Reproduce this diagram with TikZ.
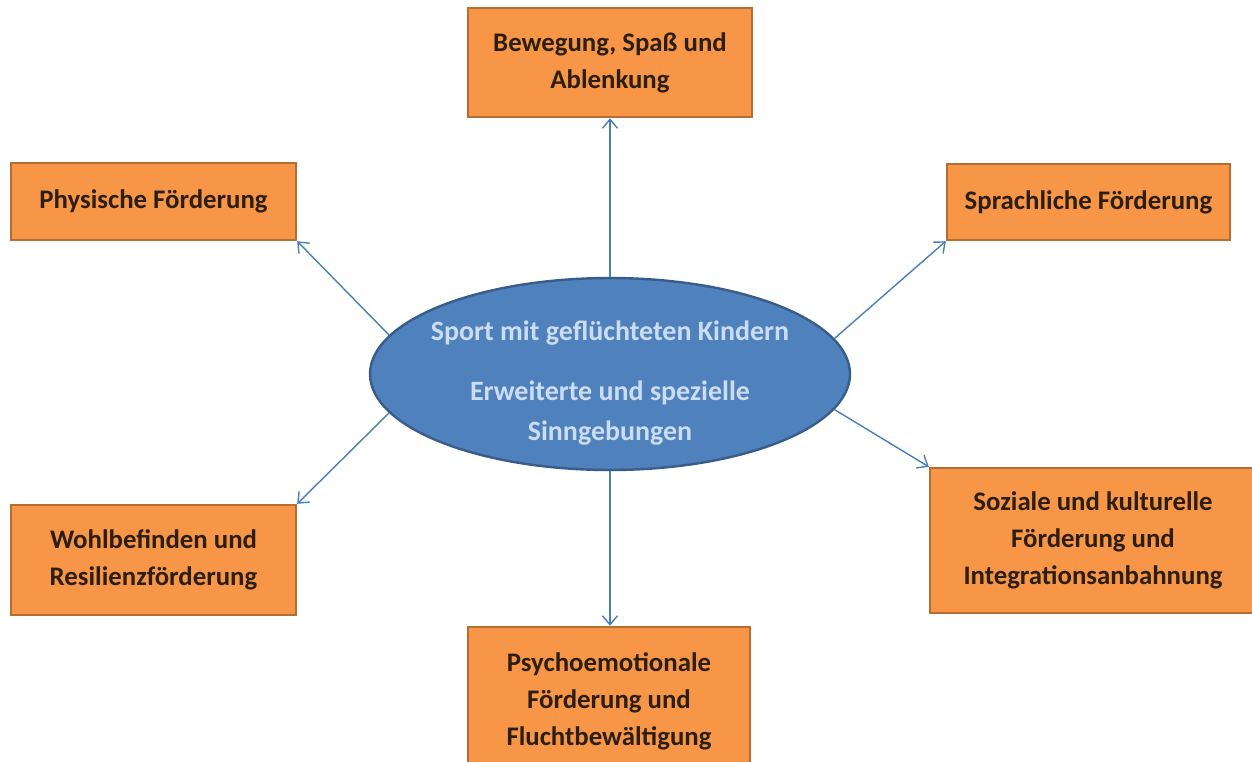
\documentclass[tikz,border=0pt]{standalone}
\usepackage{fontspec}
\setmainfont{Carlito}
\usetikzlibrary{arrows.meta,shapes.geometric}
\definecolor{boxfill}{HTML}{F79646}
\definecolor{boxdraw}{HTML}{B66D31}
\definecolor{boxtext}{HTML}{2D1E12}
\definecolor{ellfill}{HTML}{4F81BD}
\definecolor{elldraw}{HTML}{385D8A}
\definecolor{elltext}{HTML}{CCDDF2}
\definecolor{arrcol}{HTML}{4A7EBB}
\tikzset{
  obox/.style={draw=boxdraw, line width=2.4pt, fill=boxfill, text=boxtext,
    font=\fontsize{26.8}{37}\selectfont\bfseries, align=center, inner sep=0pt},
  arr/.style={draw=arrcol, line width=1.4pt, -{Straight Barb[length=9pt,width=15pt,line width=1.4pt]}}
}
\begin{document}
\begin{tikzpicture}[x=1pt,y=-1pt]
\clip (0,0) rectangle (1252,761);
\fill[white] (0,0) rectangle (1252,761);
\node[ellipse, draw=elldraw, line width=2.4pt, fill=ellfill, minimum width=480pt, minimum height=192pt,
  inner sep=0pt] (c) at (610,374) {};
\node[text=elltext, font=\fontsize{28}{40}\selectfont\bfseries, align=center] (ct) at (610,383)
  {Sport mit geflüchteten Kindern\\[20pt]Erweiterte und spezielle\\Sinngebungen};
\node[obox, minimum width=284pt, minimum height=109pt] (top) at (610,62.5) {Bewegung, Spaß und\\Ablenkung};
\node[obox, minimum width=285pt, minimum height=77pt] (phys) at (153.5,201.5) {Physische Förderung};
\node[obox, minimum width=283pt, minimum height=76pt] (spr) at (1088.5,202) {Sprachliche Förderung};
\node[obox, minimum width=285pt, minimum height=110pt] (wohl) at (153.5,560) {Wohlbefinden und\\Resilienzförderung};
\node[obox, minimum width=326pt, minimum height=145pt] (soz) at (1093,540.5) {Soziale und kulturelle\\Förderung und\\Integrationsanbahnung};
\node[obox, minimum width=282pt, minimum height=148pt] (bot) at (609,701) {Psychoemotionale\\Förderung und\\Fluchtbewältigung};
\draw[arr] (c.north) -- (c.north |- top.south);
\draw[arr] (c.south) -- (c.south |- bot.north);
\draw[arr] (c.170) -- (phys.south east);
\draw[arr] (c.190) -- (wohl.north east);
\draw[arr] (c.9) -- (spr.south west);
\draw[arr] (c.351) -- (soz.north west);
\end{tikzpicture}
\end{document}
